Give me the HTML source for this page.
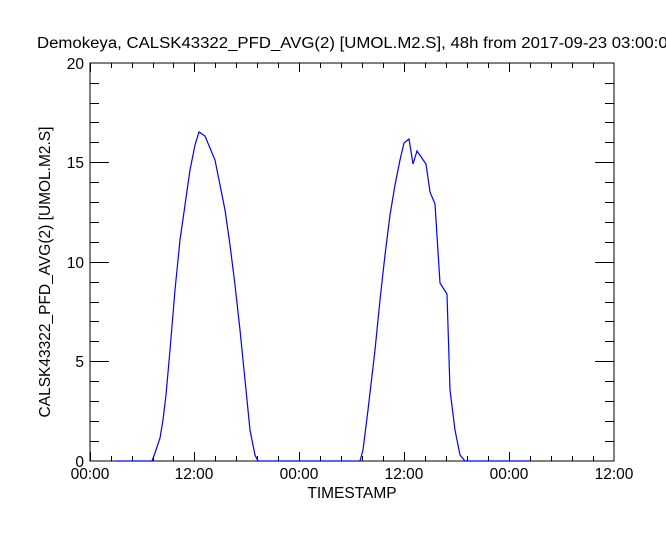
<!DOCTYPE html>
<html><head><style>body{margin:0;background:#fff}svg{display:block}</style></head><body>
<svg width="666" height="533" xmlns="http://www.w3.org/2000/svg" font-family="Liberation Sans, sans-serif">
<text x="37" y="48" font-size="15.5" fill="#000" textLength="640" lengthAdjust="spacingAndGlyphs">Demokeya, CALSK43322_PFD_AVG(2) [UMOL.M2.S], 48h from  2017-09-23 03:00:00</text>
<rect x="90" y="63" width="524" height="398" fill="none" stroke="#000" stroke-width="1"/>
<g stroke="#000" stroke-width="1" id="t">
<path d="M90.5 461v-9M111.5 461v-5M132.5 461v-5M153.5 461v-5M173.5 461v-5M194.5 461v-9M215.5 461v-5M236.5 461v-5M257.5 461v-5M278.5 461v-5M299.5 461v-9M320.5 461v-5M341.5 461v-5M362.5 461v-5M383.5 461v-5M404.5 461v-9M425.5 461v-5M446.5 461v-5M467.5 461v-5M488.5 461v-5M509.5 461v-9M530.5 461v-5M551.5 461v-5M572.5 461v-5M593.5 461v-5"/>
<path d="M90.5 63v9M111.5 63v5M132.5 63v5M153.5 63v5M173.5 63v5M194.5 63v9M215.5 63v5M236.5 63v5M257.5 63v5M278.5 63v5M299.5 63v9M320.5 63v5M341.5 63v5M362.5 63v5M383.5 63v5M404.5 63v9M425.5 63v5M446.5 63v5M467.5 63v5M488.5 63v5M509.5 63v9M530.5 63v5M551.5 63v5M572.5 63v5M593.5 63v5"/>
<path d="M90 441.5h9M90 421.5h9M90 401.5h9M90 381.5h9M90 361.5h19M90 341.5h9M90 321.5h9M90 302.5h9M90 282.5h9M90 262.5h19M90 242.5h9M90 222.5h9M90 202.5h9M90 182.5h9M90 162.5h19M90 142.5h9M90 122.5h9M90 103.5h9M90 83.5h9"/>
<path d="M614 441.5h-9M614 421.5h-9M614 401.5h-9M614 381.5h-9M614 361.5h-19M614 341.5h-9M614 321.5h-9M614 302.5h-9M614 282.5h-9M614 262.5h-19M614 242.5h-9M614 222.5h-9M614 202.5h-9M614 182.5h-9M614 162.5h-19M614 142.5h-9M614 122.5h-9M614 103.5h-9M614 83.5h-9"/>
</g>
<g font-size="15.5" fill="#000" text-anchor="end">
<text x="84" y="467">0</text><text x="84" y="367">5</text><text x="84" y="268">10</text><text x="84" y="168">15</text><text x="84" y="69">20</text>
</g>
<g font-size="15.5" fill="#000" text-anchor="middle">
<text x="90" y="479">00:00</text><text x="194" y="479">12:00</text><text x="299" y="479">00:00</text><text x="404" y="479">12:00</text><text x="509" y="479">00:00</text><text x="614" y="479">12:00</text>
<text x="352" y="498">TIMESTAMP</text>
<text transform="translate(50,272) rotate(-90)">CALSK43322_PFD_AVG(2) [UMOL.M2.S]</text>
</g>
<polyline fill="none" stroke="#0000ff" stroke-width="1.2" points="116,461 152,461 155,453 160,438 163,420 166,395 170,350 175,290 180,240 185,205 190,170 195,145 199,132 205,136 210,148 215,160 220,185 225,210 230,245 235,285 240,330 245,380 250,430 255,455 258,461 360,461 363,450 368,410 375,350 380,300 385,255 390,215 395,185 400,160 404,143 409,139 413,164 417,151 426,164 430,192 435,204 440,283 447,294 450,390 455,430 460,455 465,461 530,461"/>
</svg>
</body></html>
